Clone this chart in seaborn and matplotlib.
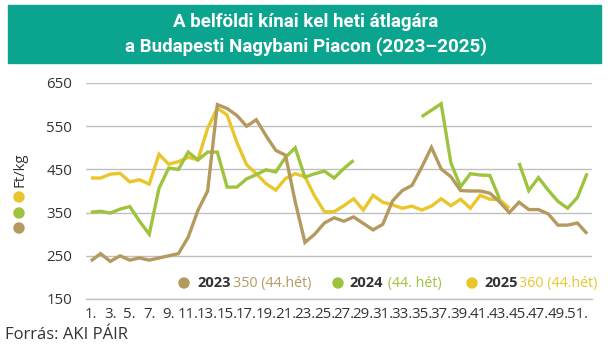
import numpy as np
import pandas as pd
import matplotlib
matplotlib.use("Agg")
import matplotlib.pyplot as plt
from matplotlib.patches import Ellipse, Rectangle
import seaborn as sns

weeks = list(range(1, 53))
tick_labels = [f"{w}." for w in range(1, 52, 2)]
years = ["2023", "2024", "2025"]

price_2023 = [238, 255, 237, 250, 240, 245, 240, 245, 250, 255,
              293, 355, 400, 600, 591, 575, 550, 565, 528, 494,
              483, 375, 281, 300, 326, 338, 330, 340, 325, 310,
              323, 377, 401, 413, 455, 501, 451, 433, 401, 400,
              400, 395, 375, 350, 374, 357, 357, 347, 321, 321,
              326, 301]
price_2024 = [351, 353, 349, 358, 364, 330, 300, 406, 453, 450,
              490, 472, 490, 490, 409, 409, 428, 438, 449, 444,
              478, 500, 432, 440, 446, 430, 452, 471, None, None,
              None, None, None, None, 572, 587, 602, 465, 410, 440,
              437, 436, 382, None, 465, 401, 431, 402, 376, 360,
              385, 441]
price_2025 = [430, 430, 439, 441, 421, 426, 416, 485, 462, 468,
              478, 472, 545, 592, 576, 513, 461, 440, 417, 402,
              429, 440, 433, 388, 352, 352, 366, 382, 356, 390,
              374, 368, 360, 365, 356, 365, 382, 366, 381, 360,
              390, 381, 380, 360, None, None, None, None, None, None,
              None, None]

legend_values = ["350 (44.hét)", " (44. hét)", "360 (44.hét)"]
colors = {"2023": "#b49a5f", "2024": "#9dc43c", "2025": "#e8c62c"}

rows = []
for yr, vals in zip(years, [price_2023, price_2024, price_2025]):
    seg = 0
    prev_none = True
    for w, v in zip(weeks, vals):
        if v is None:
            prev_none = True
            continue
        if prev_none:
            seg += 1
            prev_none = False
        rows.append({"week": w, "price": v, "year": yr, "seg": f"{yr}-{seg}"})
df = pd.DataFrame(rows)

sns.set_theme(style="white")
plt.rcParams["font.family"] = ["Open Sans", "DejaVu Sans"]

W, H = 609, 354
fig = plt.figure(figsize=(W / 100, H / 100), dpi=100)
ax = fig.add_axes([86 / W, 1 - 299 / H, (592 - 86) / W, (299 - 83) / H])

# draw order: 2025, 2024, 2023
for yr in ["2025", "2024", "2023"]:
    sub = df[df["year"] == yr]
    sns.lineplot(data=sub, x="week", y="price", units="seg", estimator=None,
                 color=colors[yr], linewidth=2.4, ax=ax, legend=False,
                 solid_joinstyle="miter", solid_capstyle="butt")

ax.set_xlim(0.5, 52.5)
ax.set_ylim(150, 650)
ax.set_yticks([150, 250, 350, 450, 550, 650])
ax.set_yticklabels(["150", "250", "350", "450", "550", "650"])
ax.yaxis.grid(True, color="#c0c0c0", linewidth=1.0)
ax.set_axisbelow(True)
for s in ["top", "right", "left"]:
    ax.spines[s].set_visible(False)
ax.spines["bottom"].set_color("#c0c0c0")
ax.spines["bottom"].set_linewidth(1.0)

ax.set_xticks(list(range(1, 52, 2)))
ax.set_xticklabels(tick_labels)
ax.set_xticks(np.arange(0.5, 53, 1.0), minor=True)
ax.tick_params(axis="x", which="major", length=0, pad=6, labelsize=10.8, colors="#333333")
ax.tick_params(axis="x", which="minor", length=4, width=0.8, color="#b0b0b0", direction="out")
ax.tick_params(axis="y", length=0, pad=10, labelsize=10.8, colors="#333333")
ax.set_xlabel("")
ax.set_ylabel("")

# title band
fig.add_artist(Rectangle((8 / W, 1 - 63 / H), (601 - 8) / W, 58 / H,
                         transform=fig.transFigure, color="#0ba48f", zorder=0))
title_font = ["Roboto", "DejaVu Sans"]
fig.text(306 / W, 1 - 22 / H, "A belföldi kínai kel heti átlagára", ha="center", va="center",
         color="white", fontsize=13.5, fontweight="bold", family=title_font)
fig.text(306 / W, 1 - 47 / H, "a Budapesti Nagybani Piacon (2023–2025)", ha="center", va="center",
         color="white", fontsize=13.5, fontweight="bold", family=title_font)

# y label with dots
fig.text(20 / W, 1 - 170 / H, "Ft/kg", rotation=90, ha="center", va="center",
         fontsize=10.8, color="#333333")
for yy, yr in zip([197, 213, 228], ["2025", "2024", "2023"]):
    fig.add_artist(Ellipse((19 / W, 1 - yy / H), 10 / W, 10 / H,
                           transform=fig.transFigure, color=colors[yr]))

# legend row
leg_y = 1 - 283 / H
for dot_x, yr_x, val_x, yr, val in zip([184, 338, 472], [197, 349, 484], [233, 384, 519],
                                        years, legend_values):
    fig.add_artist(Ellipse((dot_x / W, leg_y), 10 / W, 10 / H,
                           transform=fig.transFigure, color=colors[yr]))
    fig.text(yr_x / W, leg_y, yr, ha="left", va="center", fontsize=10.5,
             fontweight="bold", color="#333333")
    fig.text(val_x / W, leg_y, val, ha="left", va="center", fontsize=10.3,
             color=colors[yr])

fig.text(5 / W, 1 - 335 / H, "Forrás: AKI PÁIR", ha="left", va="center",
         fontsize=12, color="#333333")

fig.savefig("out.png", dpi=100)
